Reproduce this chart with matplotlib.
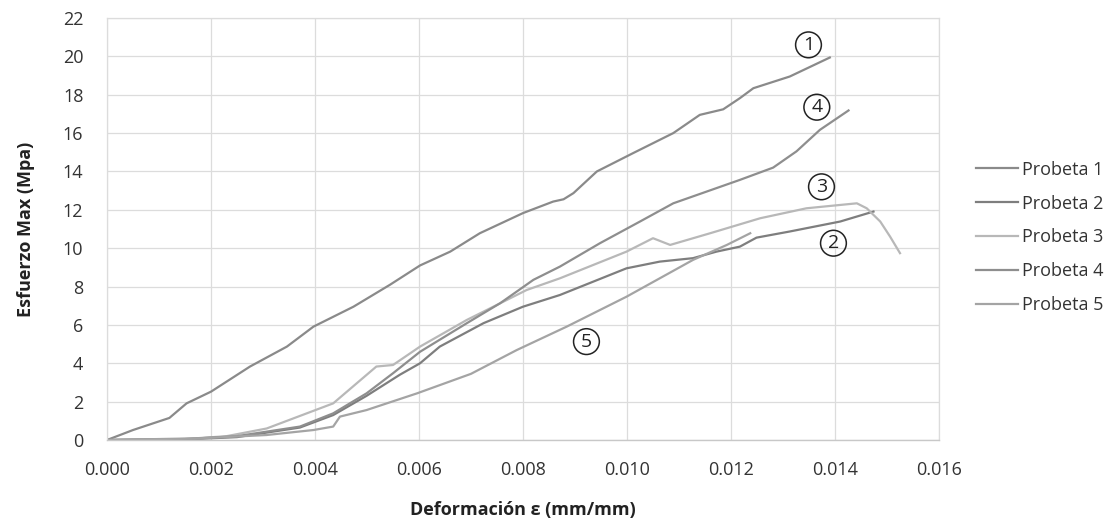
import matplotlib
matplotlib.use("Agg")
import matplotlib.pyplot as plt

# Strain (mm/mm) and stress (MPa) for each specimen
p1_strain = [0, 0.0005, 0.0012, 0.00153, 0.0020, 0.00275, 0.00346, 0.00397, 0.00474,
             0.00544, 0.00602, 0.0066, 0.00717, 0.0080, 0.00858, 0.00878, 0.00897,
             0.00942, 0.01012, 0.01089, 0.0114, 0.01185, 0.01217, 0.01243, 0.01313, 0.0139]
p1_stress = [0, 0.52, 1.15, 1.91, 2.52, 3.83, 4.87, 5.91, 6.95,
             8.09, 9.10, 9.82, 10.78, 11.83, 12.43, 12.55, 12.87,
             14.0, 14.96, 16.0, 16.95, 17.24, 17.82, 18.34, 18.95, 19.94]

p2_strain = [0, 0.0015, 0.0025, 0.00371, 0.00435, 0.00499, 0.00563, 0.00602, 0.0064,
             0.00724, 0.0080, 0.00871, 0.00999, 0.01063, 0.01127, 0.01172, 0.01217,
             0.01249, 0.01313, 0.0141, 0.01474]
p2_stress = [0, 0.03, 0.15, 0.65, 1.30, 2.30, 3.40, 4.0, 4.87,
             6.09, 6.95, 7.56, 8.95, 9.30, 9.48, 9.82, 10.08,
             10.55, 10.87, 11.39, 11.91]

p3_strain = [0, 0.0015, 0.0023, 0.00307, 0.00435, 0.00518, 0.0055, 0.00602, 0.00692,
             0.00743, 0.00807, 0.00871, 0.00999, 0.0105, 0.01083, 0.0116, 0.01256,
             0.01345, 0.01442, 0.01461, 0.01487, 0.01506, 0.01525]
p3_stress = [0, 0.05, 0.20, 0.60, 1.91, 3.83, 3.91, 4.87, 6.26,
             6.95, 7.82, 8.43, 9.82, 10.52, 10.17, 10.78, 11.56,
             12.08, 12.34, 12.08, 11.39, 10.60, 9.74]

p4_strain = [0, 0.0015, 0.0025, 0.00371, 0.00435, 0.00499, 0.0055, 0.00602, 0.00692,
             0.00756, 0.0082, 0.00871, 0.00948, 0.01025, 0.01089, 0.01153, 0.01217,
             0.01281, 0.01326, 0.01371, 0.01426]
p4_stress = [0, 0.05, 0.20, 0.70, 1.39, 2.43, 3.48, 4.60, 6.09,
             7.13, 8.35, 9.04, 10.26, 11.39, 12.34, 12.95, 13.56,
             14.20, 15.05, 16.17, 17.18]

p5_strain = [0, 0.00179, 0.00307, 0.00397, 0.00435, 0.00448, 0.00499, 0.00596,
             0.00700, 0.00788, 0.00884, 0.00999, 0.01063, 0.01127, 0.01192, 0.01237]
p5_stress = [0, 0.09, 0.26, 0.52, 0.70, 1.22, 1.56, 2.43,
             3.45, 4.69, 5.91, 7.47, 8.43, 9.39, 10.17, 10.78]

series_names = ["Probeta 1", "Probeta 2", "Probeta 3", "Probeta 4", "Probeta 5"]
series_colors = ["#8a8a8a", "#7e7e7e", "#b8b8b8", "#8e8e8e", "#a4a4a4"]

# Circled specimen numbers placed beside each curve
tag_text = ["1", "4", "3", "2", "5"]
tag_x = [0.01349, 0.01365, 0.01374, 0.01397, 0.00922]
tag_y = [20.6, 17.35, 13.2, 10.26, 5.13]

x_ticks = [0.000, 0.002, 0.004, 0.006, 0.008, 0.010, 0.012, 0.014, 0.016]
y_ticks = list(range(0, 23, 2))

plt.rcParams['font.family'] = ['Open Sans', 'DejaVu Sans']

fig = plt.figure(figsize=(11.18, 5.25), dpi=100)
ax = fig.add_axes([0.0957, 0.1619, 0.7442, 0.8038])

data = [(p1_strain, p1_stress), (p2_strain, p2_stress), (p3_strain, p3_stress),
        (p4_strain, p4_stress), (p5_strain, p5_stress)]
for (xs, ys), name, col in zip(data, series_names, series_colors):
    ax.plot(xs, ys, color=col, lw=1.6, label=name, solid_joinstyle='round')

for t, x, y in zip(tag_text, tag_x, tag_y):
    ax.text(x, y, t, ha='center', va='center', fontsize=14, color='#222222',
            bbox=dict(boxstyle='circle,pad=0.2', fc='none', ec='#222222', lw=1.1))

ax.set_xlim(0, 0.016)
ax.set_ylim(0, 22)
ax.set_xticks(x_ticks)
ax.set_xticklabels([f"{v:.3f}" for v in x_ticks])
ax.set_yticks(y_ticks)
ax.tick_params(axis='both', length=0, labelsize=13, labelcolor='#333333')
ax.tick_params(axis='x', pad=15)
ax.tick_params(axis='y', pad=17)
ax.grid(True, color='#dcdcdc', lw=0.9)
ax.set_axisbelow(True)
for side in ['top', 'right', 'left']:
    ax.spines[side].set_color('#dcdcdc')
    ax.spines[side].set_linewidth(0.9)
ax.spines['bottom'].set_color('#c8c8c8')
ax.spines['bottom'].set_linewidth(1.0)

ax.set_xlabel("Deformación ε (mm/mm)", fontsize=13, fontweight='bold',
              color='#222222', labelpad=16)
ax.set_ylabel("Esfuerzo Max (Mpa)", fontsize=13, fontweight='bold',
              color='#222222', labelpad=20)

leg = ax.legend(loc='center left', bbox_to_anchor=(1.036, 0.48), frameon=False,
                fontsize=13, handlelength=2.3, handletextpad=0.25,
                labelspacing=0.88, borderaxespad=0)
for txt in leg.get_texts():
    txt.set_color('#333333')

fig.savefig("out.png", dpi=100, facecolor='white')
